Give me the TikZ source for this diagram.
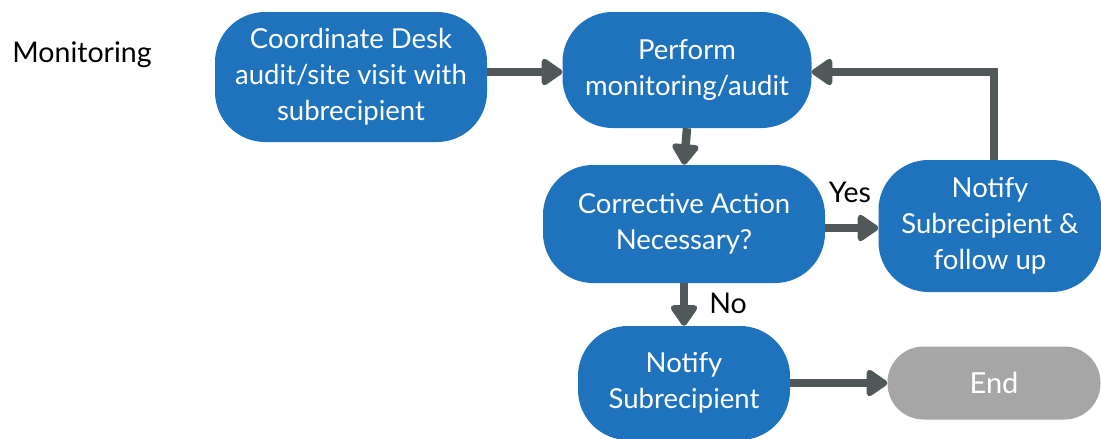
\documentclass[tikz,border=0pt]{standalone}
\usepackage{fontspec}
\setmainfont{Lato}
\usetikzlibrary{arrows.meta}
\definecolor{boxblue}{RGB}{31,115,188}
\definecolor{endgrey}{RGB}{166,166,166}
\definecolor{arrowgrey}{RGB}{80,88,90}
\tikzset{
  box/.style={fill=boxblue, text=white, align=center, rounded corners=50pt,
    inner sep=0pt, font=\fontsize{27.5}{36}\selectfont},
  endbox/.style={box, fill=endgrey, rounded corners=36pt},
  conn/.style={draw=arrowgrey, line width=8.5pt,
    -{Triangle[width=30pt,length=23pt,round]}},
  lbl/.style={font=\fontsize{28.5}{30}\selectfont, text=black}
}
\begin{document}
\begin{tikzpicture}[x=1pt,y=-1pt]
\useasboundingbox (0,0) rectangle (1101,439);
\node[lbl] (mon) at (82,55) {Monitoring};
\node[box, minimum width=272pt, minimum height=130pt] (coord) at (351,77) {Coordinate Desk\\audit/site visit with\\subrecipient};
\node[box, minimum width=249pt, minimum height=116pt] (perf) at (687,70) {Perform\\monitoring/audit};
\node[box, minimum width=282pt, minimum height=118pt] (corr) at (684,224) {Corrective Action\\Necessary?};
\node[box, minimum width=223pt, minimum height=132pt] (fol) at (990,226) {Notify\\Subrecipient \&\\follow up};
\node[box, minimum width=212pt, minimum height=114pt] (noti) at (684,383) {Notify\\Subrecipient};
\node[endbox, minimum width=213pt, minimum height=73pt, font=\fontsize{29}{36}\selectfont] (end) at (994,383) {End};
\coordinate (corner) at (994,72);
\draw[conn] (coord.east |- 0,72) -- (perf.west |- 0,72);
\draw[conn] (perf.south) -- (corr.north);
\draw[conn] (corr.east |- 0,228) -- (fol.west |- 0,228);
\draw[conn] (fol.north -| corner) -- (corner) -- (perf.east |- corner);
\draw[conn] (corr.south) -- (noti.north);
\draw[conn] (noti.east) -- (end.west);
\node[lbl] (yes) at (850,192) {Yes};
\node[lbl] (no) at (728,303) {No};
\end{tikzpicture}
\end{document}
